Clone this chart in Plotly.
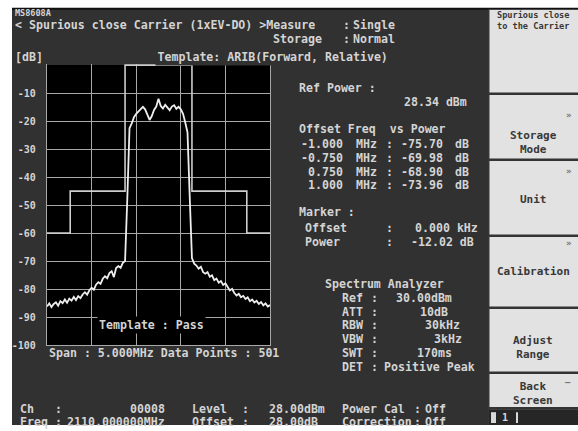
import plotly.graph_objects as go

W, H = 578, 431
MONO = "DejaVu Sans Mono"
SCREEN = "#313131"
INK = "#d4d4d4"
GRID = "#a8a8a8"
KEY = "#e2e2e2"
KEY_INK = "#383838"

# Spectrum trace (relative level vs. offset from carrier)
freq_mhz = [
    -2.50, -2.45, -2.40, -2.35, -2.30, -2.25, -2.20, -2.15, -2.10, -2.05,
    -2.00, -1.95, -1.90, -1.85, -1.80, -1.75, -1.70, -1.65, -1.60, -1.55,
    -1.50, -1.45, -1.40, -1.35, -1.30, -1.25, -1.20, -1.15, -1.10, -1.05,
    -1.00, -0.95, -0.90, -0.85, -0.80, -0.75, -0.70, -0.65, -0.60, -0.55,
    -0.50, -0.45, -0.40, -0.35, -0.30, -0.25, -0.20, -0.15, -0.10, -0.05,
    0.00, 0.05, 0.10, 0.15, 0.20, 0.25, 0.30, 0.35, 0.40, 0.45,
    0.50, 0.55, 0.60, 0.65, 0.70, 0.75, 0.80, 0.85, 0.90, 0.95,
    1.00, 1.05, 1.10, 1.15, 1.20, 1.25, 1.30, 1.35, 1.40, 1.45,
    1.50, 1.55, 1.60, 1.65, 1.70, 1.75, 1.80, 1.85, 1.90, 1.95,
    2.00, 2.05, 2.10, 2.15, 2.20, 2.25, 2.30, 2.35, 2.40, 2.45,
    2.50,
]
level_db = [
    -86.2, -85.1, -86.4, -85.3, -84.7, -85.9, -84.3, -85.0, -83.7, -84.9,
    -83.4, -84.1, -82.8, -83.9, -82.5, -83.2, -81.9, -81.1, -82.0, -80.4,
    -79.5, -80.2, -78.4, -77.5, -78.1, -76.3, -75.4, -76.1, -74.3, -73.6,
    -75.70, -72.5, -71.8, -72.4, -70.6, -69.98, -48.0, -22.5, -20.8, -18.6,
    -17.4, -16.6, -15.6, -14.9, -15.8, -17.6, -19.6, -18.2, -16.0, -14.8,
    -12.02, -14.6, -15.5, -14.2, -15.0, -16.1, -14.8, -14.3, -15.6, -14.9,
    -15.8, -17.4, -20.5, -24.0, -47.0, -68.90, -70.9, -71.6, -72.7, -72.0,
    -73.96, -74.5, -73.9, -75.6, -75.1, -76.8, -76.2, -77.7, -77.1, -78.5,
    -77.9, -79.3, -80.5, -79.9, -81.4, -82.3, -81.7, -82.9, -82.4, -83.5,
    -82.9, -84.3, -83.7, -84.8, -84.2, -85.3, -84.6, -85.8, -85.1, -86.2,
    -85.7,
]

# Limit template (ARIB forward, relative)
mask_freq_mhz = [-2.5, -1.98, -1.98, -0.75, -0.75, 0.75, 0.75, 1.98, 1.98, 2.5]
mask_db = [-60, -60, -45, -45, 0, 0, -45, -45, -60, -60]

y_ticks = [-10, -20, -30, -40, -50, -60, -70, -80, -90, -100]
y_tick_labels = ["-10", "-20", "-30", "-40", "-50", "-60", "-70", "-80", "-90", "-100"]
x_grid = [-1.5, -0.5, 0.5, 1.5]

offset_freqs = ["-1.000", "-0.750", "0.750", "1.000"]
offset_powers = ["-75.70", "-69.98", "-68.90", "-73.96"]

analyzer_names = ["Ref", "ATT", "RBW", "VBW", "SWT", "DET"]
analyzer_values = ["30.00dBm", "10dB", "30kHz", "3kHz", "170ms", "Positive Peak"]

soft_keys = ["Storage<br>Mode", "Unit", "Calibration", "Adjust<br>Range", "Back<br>Screen"]

PLOT_L, PLOT_R, PLOT_T, PLOT_B = 47, 270, 66, 350
Y_TOP = 0.5
px_per_db = (PLOT_B - PLOT_T) / 100.0
axis_top_px = PLOT_T - Y_TOP * px_per_db


def fx(px):
    return px / W


def fy(py):
    return 1 - py / H


fig = go.Figure()
fig.add_trace(go.Scatter(x=mask_freq_mhz, y=mask_db, mode="lines",
                         line=dict(color="#cdcdcd", width=1.6), hoverinfo="skip"))
fig.add_trace(go.Scatter(x=freq_mhz, y=level_db, mode="lines",
                         line=dict(color="#eeeeee", width=1.8), hoverinfo="skip"))

fig.update_layout(
    width=W, height=H, margin=dict(l=0, r=0, t=0, b=0),
    paper_bgcolor="white", plot_bgcolor="black", showlegend=False, hovermode=False,
    xaxis=dict(domain=[fx(PLOT_L), fx(PLOT_R)], range=[-2.5, 2.5], tickvals=x_grid,
               showticklabels=False, showgrid=True, gridcolor=GRID, gridwidth=1.4,
               zeroline=False, showline=True, linecolor=GRID, linewidth=1.4, ticks=""),
    yaxis=dict(domain=[fy(PLOT_B), fy(axis_top_px)], range=[-100, Y_TOP], tickvals=y_ticks,
               ticktext=y_tick_labels, showgrid=True, gridcolor=GRID, gridwidth=1.4,
               zeroline=False, showline=True, mirror=True, linecolor=GRID, linewidth=1.4,
               ticks="", ticklabelstandoff=8,
               tickfont=dict(family=MONO, size=10, color=INK, weight="bold")),
)

shapes = []
# instrument screen and soft-key panel
shapes.append(dict(type="rect", xref="paper", yref="paper", x0=fx(12), x1=fx(489), y0=0, y1=fy(9),
                   fillcolor=SCREEN, line=dict(width=0), layer="below"))
shapes.append(dict(type="rect", xref="paper", yref="paper", x0=fx(489), x1=1, y0=0, y1=fy(9),
                   fillcolor=KEY, line=dict(width=0), layer="below"))
shapes.append(dict(type="line", xref="paper", yref="paper", x0=fx(12), x1=1, y0=fy(9), y1=fy(9),
                   line=dict(color="#111111", width=2), layer="below"))
shapes.append(dict(type="rect", xref="paper", yref="paper", x0=fx(PLOT_L), x1=fx(PLOT_R),
                   y0=fy(PLOT_B), y1=fy(PLOT_T), fillcolor="black", line=dict(width=0), layer="below"))
for sep in [95, 162, 239, 312, 378, 414]:
    shapes.append(dict(type="line", xref="paper", yref="paper", x0=fx(489), x1=1, y0=fy(sep), y1=fy(sep),
                       line=dict(color="#333333", width=2.5), layer="below"))
shapes.append(dict(type="line", xref="paper", yref="paper", x0=fx(489), x1=fx(489), y0=0, y1=fy(9),
                   line=dict(color="#3a3a3a", width=1), layer="below"))
shapes.append(dict(type="rect", xref="paper", yref="paper", x0=fx(489), x1=1, y0=0, y1=fy(415),
                   fillcolor="#262626", line=dict(width=0), layer="below"))
shapes.append(dict(type="rect", xref="paper", yref="paper", x0=fx(491), x1=fx(496), y0=fy(429), y1=fy(418),
                   fillcolor="#d8d8d8", line=dict(width=0), layer="below"))
shapes.append(dict(type="rect", xref="paper", yref="paper", x0=fx(516), x1=fx(518), y0=fy(429), y1=fy(418),
                   fillcolor="#d8d8d8", line=dict(width=0), layer="below"))
fig.update_layout(shapes=shapes)


def label(text, px, py, anchor="left", size=11.6, color=INK, bg=None, pad=1):
    fig.add_annotation(text=text, x=fx(px), y=fy(py), xref="paper", yref="paper",
                       xanchor=anchor, yanchor="middle", showarrow=False,
                       bgcolor=bg, borderpad=pad,
                       font=dict(family=MONO, size=size, color=color, weight="bold"))


# header
label("MS8608A", 14, 13, size=8.5, pad=0)
label("< Spurious close Carrier (1xEV-DO) >Measure", 14, 25, pad=0)
label(":", 342, 25, pad=0)
label("Single", 352, 25, pad=0)
label("Storage", 323, 40, anchor="right", pad=0)
label(":", 342, 40, pad=0)
label("Normal", 352, 40, pad=0)
label("[dB]", 14, 58, pad=0)
label("Template: ARIB(Forward, Relative)", 155, 57.5, bg=SCREEN, pad=1.5)

# inside / under the graticule
label("Template : Pass", 97, 330, bg="black")
label("Span : 5.000MHz Data Points : 501", 47, 358)

# result panel
label("Ref Power :", 297, 89)
label("28.34 dBm", 469, 103, anchor="right")
label("Offset Freq  vs Power", 297, 131)
for i, (f, p) in enumerate(zip(offset_freqs, offset_powers)):
    row = 146 + 14 * i
    label(f, 345, row, anchor="right")
    label("MHz", 354, row)
    label(":", 384, row)
    label(p, 445, row, anchor="right")
    label("dB", 453, row)

label("Marker :", 297, 215)
label("Offset", 303, 231)
label(":", 384, 231)
label("0.000 kHz", 480, 231, anchor="right")
label("Power", 303, 245)
label(":", 384, 245)
label("-12.02 dB", 476, 245, anchor="right")

label("Spectrum Analyzer", 323, 288)
value_x = [394, 418, 423, 432, 415, 382]
for i, (n, v) in enumerate(zip(analyzer_names, analyzer_values)):
    row = 302 + 14 * i
    label(n, 340, row)
    label(":", 369, row)
    label(v, value_x[i], row)

# status lines
label("Ch", 18, 415)
label(":", 53, 415)
label("00008", 167, 415, anchor="right")
label("Level", 190, 415)
label(":", 240, 415)
label("28.00dBm", 267, 415)
label("Power Cal", 340, 415)
label(":", 412, 415)
label("Off", 423, 415)
label("Freq", 18, 428)
label(":", 53, 428)
label("2110.000000MHz", 167, 428, anchor="right")
label("Offset", 190, 428)
label(":", 240, 428)
label("28.00dB", 267, 428)
label("Correction", 340, 428)
label(":", 412, 428)
label("Off", 423, 428)

# soft keys
label("Spurious close<br>to the Carrier", 533, 21, anchor="center", size=8.6, color=KEY_INK)
key_rows = [145, 202, 275, 352, 399]
for txt, row in zip(soft_keys, key_rows):
    label(txt, 533, row, anchor="center", size=11, color=KEY_INK)
for row in [117, 173, 246]:
    label("»", 568, row, anchor="center", size=9, color="#777777")
label("–", 568, 387, anchor="center", size=9, color="#777777")
label("1", 505, 423, anchor="center", size=10, color="#d8d8d8")

fig.write_html("out.html")
